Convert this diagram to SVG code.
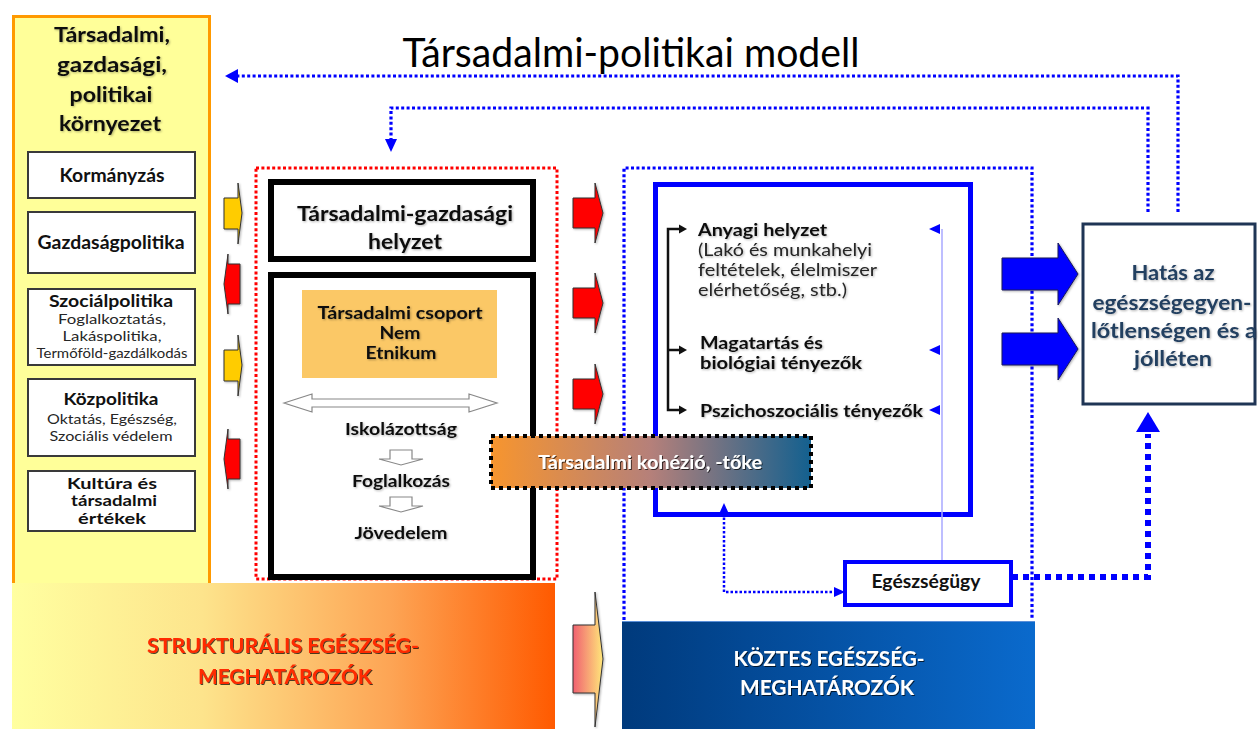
<svg xmlns="http://www.w3.org/2000/svg" width="1258" height="729" viewBox="0 0 1258 729">
<style>
text{font-family:Lato,"Open Sans","Liberation Sans",sans-serif;text-anchor:middle;dominant-baseline:central;fill:#111}
.b{font-weight:700}
.r{font-weight:400;fill:#262626}
.l{text-anchor:start}
.box{fill:#fff;stroke:#3a3a3a;stroke-width:2}
.dot{fill:none;stroke:#0000ff;stroke-width:3.2;stroke-dasharray:3 2.4}
.thin{fill:none;stroke:#0000ff;stroke-width:2.5;stroke-dasharray:2.5 2}
.ah{fill:#0000ff}
.blk{fill:#111}
.ya{fill:#ffcc00;stroke:#333;stroke-width:1}
.ra{fill:#ff0000;stroke:#333;stroke-width:1}
.ba{fill:#0000ff;stroke:#1a1a5a;stroke-width:1}
.wa{fill:#fff;stroke:#888;stroke-width:1.2}
</style>
<defs>
<linearGradient id="gStruct" x1="0" y1="0" x2="1" y2="0">
<stop offset="0" stop-color="#ffffa0"/><stop offset="0.35" stop-color="#fde48c"/><stop offset="0.7" stop-color="#fda454"/><stop offset="1" stop-color="#ff5a00"/>
</linearGradient>
<linearGradient id="gKoz" x1="0" y1="0" x2="1" y2="0">
<stop offset="0" stop-color="#003a7c"/><stop offset="1" stop-color="#0a6acd"/>
</linearGradient>
<linearGradient id="gKoh" x1="0" y1="0" x2="1" y2="0">
<stop offset="0" stop-color="#f7952e"/><stop offset="0.5" stop-color="#b5807a"/><stop offset="1" stop-color="#13608f"/>
</linearGradient>
<linearGradient id="gArr" x1="0" y1="0" x2="1" y2="0">
<stop offset="0" stop-color="#f06070"/><stop offset="1" stop-color="#ffe77a"/>
</linearGradient>
<filter id="sh" x="-10%" y="-20%" width="120%" height="150%">
<feDropShadow dx="1" dy="1" stdDeviation="0.6" flood-color="#000" flood-opacity="0.7"/>
</filter>
<filter id="sh2" x="-10%" y="-20%" width="120%" height="150%">
<feDropShadow dx="1" dy="1" stdDeviation="0.8" flood-color="#000" flood-opacity="0.3"/>
</filter>
</defs>
<rect width="1258" height="729" fill="#fff"/>

<g id="title"><text x="631" y="52" style="font-size:40px;fill:#000" textLength="457" lengthAdjust="spacingAndGlyphs">Társadalmi-politikai modell</text></g>

<g id="env">
<rect x="13.5" y="16.5" width="196" height="570" fill="#ffff99" stroke="#ff9900" stroke-width="3"/>
<g filter="url(#sh2)">
<text class="b" x="112" y="33" style="font-size:21px" textLength="116" lengthAdjust="spacingAndGlyphs">Társadalmi,</text>
<text class="b" x="112" y="63" style="font-size:21px" textLength="110" lengthAdjust="spacingAndGlyphs">gazdasági,</text>
<text class="b" x="111" y="93" style="font-size:21px" textLength="83" lengthAdjust="spacingAndGlyphs">politikai</text>
<text class="b" x="110" y="122" style="font-size:21px" textLength="102" lengthAdjust="spacingAndGlyphs">környezet</text>
</g>
</g>
<g id="kormanyzas"><rect class="box" x="28" y="152" width="167" height="46"/><text class="b" x="112" y="175" style="font-size:18px" textLength="105" lengthAdjust="spacingAndGlyphs">Kormányzás</text></g>
<g id="gazdasagpolitika"><rect class="box" x="28" y="212" width="167" height="61"/><text class="b" x="111" y="242" style="font-size:18px" textLength="147" lengthAdjust="spacingAndGlyphs">Gazdaságpolitika</text></g>
<g id="szocialpolitika"><rect class="box" x="28" y="289" width="167" height="76"/>
<text class="b" x="111" y="300" style="font-size:17px" textLength="124" lengthAdjust="spacingAndGlyphs">Szociálpolitika</text>
<text class="r" x="112" y="318.5" style="font-size:14px" textLength="108" lengthAdjust="spacingAndGlyphs">Foglalkoztatás,</text>
<text class="r" x="112" y="335.5" style="font-size:14px" textLength="99" lengthAdjust="spacingAndGlyphs">Lakáspolitika,</text>
<text class="r" x="112" y="352.5" style="font-size:14px" textLength="151" lengthAdjust="spacingAndGlyphs">Termőföld-gazdálkodás</text>
</g>
<g id="kozpolitika"><rect class="box" x="28" y="379" width="167" height="77"/>
<text class="b" x="111" y="398" style="font-size:17px" textLength="95" lengthAdjust="spacingAndGlyphs">Közpolitika</text>
<text class="r" x="112" y="418" style="font-size:14px" textLength="130" lengthAdjust="spacingAndGlyphs">Oktatás, Egészség,</text>
<text class="r" x="111" y="435" style="font-size:14px" textLength="123" lengthAdjust="spacingAndGlyphs">Szociális védelem</text>
</g>
<g id="kultura"><rect class="box" x="28" y="471" width="167" height="60"/>
<text class="b" x="112" y="483" style="font-size:14.5px" textLength="90" lengthAdjust="spacingAndGlyphs">Kultúra és</text>
<text class="b" x="114" y="500.5" style="font-size:14.5px" textLength="86" lengthAdjust="spacingAndGlyphs">társadalmi</text>
<text class="b" x="112" y="518" style="font-size:14.5px" textLength="68" lengthAdjust="spacingAndGlyphs">értékek</text>
</g>

<g id="strukturalis">
<rect x="12" y="583" width="543" height="146" fill="url(#gStruct)"/>
<g filter="url(#sh)">
<text class="b" x="283" y="645" style="font-size:20px;fill:#ff2a00" textLength="272" lengthAdjust="spacingAndGlyphs">STRUKTURÁLIS EGÉSZSÉG-</text>
<text class="b" x="285" y="676" style="font-size:20px;fill:#ff2a00" textLength="174" lengthAdjust="spacingAndGlyphs">MEGHATÁROZÓK</text>
</g>
</g>

<g id="koztes">
<rect x="622" y="621" width="413" height="108" fill="url(#gKoz)"/>
<line x1="622" y1="621.5" x2="1035" y2="621.5" stroke="#5a8fd8" stroke-width="1"/>
<g filter="url(#sh)">
<text class="b" x="829" y="658" style="font-size:20px;fill:#fff" textLength="191" lengthAdjust="spacingAndGlyphs">KÖZTES EGÉSZSÉG-</text>
<text class="b" x="827" y="687" style="font-size:20px;fill:#fff" textLength="174" lengthAdjust="spacingAndGlyphs">MEGHATÁROZÓK</text>
</g>
</g>

<g id="strukturalis-keret">
<rect x="256" y="168" width="301" height="411" fill="none" stroke="#ff0000" stroke-width="3" stroke-dasharray="3 2.4"/>
</g>
<g id="koztes-keret">
<path class="dot" d="M624,620 V168 H1032 V620"/>
</g>

<g id="tg-helyzet">
<rect x="271" y="182" width="262" height="77" fill="#fff" stroke="#000" stroke-width="6"/>
<g filter="url(#sh2)">
<text class="b" x="405" y="212" style="font-size:21px" textLength="216" lengthAdjust="spacingAndGlyphs">Társadalmi-gazdasági</text>
<text class="b" x="405" y="240" style="font-size:21px" textLength="74" lengthAdjust="spacingAndGlyphs">helyzet</text>
</g>
</g>
<g id="csoport">
<rect x="271" y="275" width="262" height="302" fill="#fff" stroke="#000" stroke-width="6"/>
<rect x="302" y="290" width="195" height="88" fill="#fbc866"/>
<g filter="url(#sh2)">
<text class="b" x="400" y="313" style="font-size:16.5px;font-weight:700" textLength="165" lengthAdjust="spacingAndGlyphs">Társadalmi csoport</text>
<text class="b" x="400" y="333" style="font-size:16.5px;font-weight:700" textLength="41" lengthAdjust="spacingAndGlyphs">Nem</text>
<text class="b" x="401" y="353" style="font-size:16.5px;font-weight:700" textLength="71" lengthAdjust="spacingAndGlyphs">Etnikum</text>
</g>
<polygon class="wa" points="284,403 312,394 312,399 469,399 469,394 497,403 469,412 469,407 312,407 312,412"/>
<g filter="url(#sh2)">
<text class="b" x="401" y="428" style="font-size:17px" textLength="112" lengthAdjust="spacingAndGlyphs">Iskolázottság</text>
<text class="b" x="401" y="480" style="font-size:17px" textLength="98" lengthAdjust="spacingAndGlyphs">Foglalkozás</text>
<text class="b" x="401" y="532" style="font-size:17px" textLength="93" lengthAdjust="spacingAndGlyphs">Jövedelem</text>
</g>
<polygon class="wa" points="390,450 412,450 412,459 423,459 401,465 379,459 390,459"/>
<polygon class="wa" points="390,497 412,497 412,506 423,506 401,512 379,506 390,506"/>
</g>

<g id="anyagi">
<rect x="655.5" y="184.5" width="315" height="330" fill="#fff" stroke="#0000ff" stroke-width="5"/>
<line x1="942" y1="229" x2="942" y2="561" stroke="#a8a8ff" stroke-width="1.5"/>
<polygon class="ah" points="929,229 940,224 940,234"/>
<polygon class="ah" points="929,350 940,345 940,355"/>
<polygon class="ah" points="929,410 940,405 940,415"/>
<path d="M680,229 H668 V410 H680 M668,350 H680" fill="none" stroke="#111" stroke-width="2.5"/>
<polygon class="blk" points="687,229 679,224.5 679,233.5"/>
<polygon class="blk" points="687,350 679,345.5 679,354.5"/>
<polygon class="blk" points="687,410 679,405.5 679,414.5"/>
<g filter="url(#sh2)">
<text class="b l" x="698" y="230" style="font-size:16.5px" textLength="129" lengthAdjust="spacingAndGlyphs">Anyagi helyzet</text>
<text class="r l" x="698" y="250" style="font-size:16.5px" textLength="174" lengthAdjust="spacingAndGlyphs">(Lakó és munkahelyi</text>
<text class="r l" x="698" y="270" style="font-size:16.5px" textLength="179" lengthAdjust="spacingAndGlyphs">feltételek, élelmiszer</text>
<text class="r l" x="698" y="290" style="font-size:16.5px" textLength="149" lengthAdjust="spacingAndGlyphs">elérhetőség, stb.)</text>
<text class="b l" x="700" y="343" style="font-size:16.5px" textLength="123" lengthAdjust="spacingAndGlyphs">Magatartás és</text>
<text class="b l" x="700" y="363" style="font-size:16.5px" textLength="162" lengthAdjust="spacingAndGlyphs">biológiai tényezők</text>
<text class="b l" x="700" y="411" style="font-size:16.5px" textLength="223" lengthAdjust="spacingAndGlyphs">Pszichoszociális tényezők</text>
</g>
</g>

<g id="kohezio">
<rect x="491" y="436" width="320" height="52" fill="url(#gKoh)" stroke="#000" stroke-width="4" stroke-dasharray="4 4"/>
<text class="b" x="650" y="462" style="font-size:18px;fill:#fff" filter="url(#sh)" textLength="224" lengthAdjust="spacingAndGlyphs">Társadalmi kohézió, -tőke</text>
</g>

<g id="egeszsegugy">
<rect x="845" y="562" width="166" height="43" fill="#fff" stroke="#0000ff" stroke-width="4"/>
<text class="b" x="926" y="581" style="font-size:18px" textLength="109" lengthAdjust="spacingAndGlyphs">Egészségügy</text>
</g>

<g id="hatas">
<rect x="1083" y="224" width="172" height="180" fill="#fff" stroke="#1f3555" stroke-width="3"/>
<g filter="url(#sh2)">
<text class="b" x="1173" y="272" style="font-size:20px;fill:#243f60" textLength="83" lengthAdjust="spacingAndGlyphs">Hatás az</text>
<text class="b" x="1172" y="302" style="font-size:20px;fill:#243f60" textLength="159" lengthAdjust="spacingAndGlyphs">egészségegyen-</text>
<text class="b" x="1174" y="330" style="font-size:20px;fill:#243f60" textLength="166" lengthAdjust="spacingAndGlyphs">lőtlenségen és a</text>
<text class="b" x="1173" y="358" style="font-size:20px;fill:#243f60" textLength="78" lengthAdjust="spacingAndGlyphs">jólléten</text>
</g>
</g>

<g id="connectors">
<path class="dot" d="M1178,212 V76 H236"/>
<polygon class="ah" points="225,76 238,69 238,83"/>
<path class="dot" d="M1148,212 V108 H391 V140"/>
<polygon class="ah" points="391,152 385,139 397,139"/>
<path class="thin" d="M724,513 V592 H836"/>
<polygon class="ah" points="724,503 719,514 729,514"/>
<polygon class="ah" points="845,592 834,587 834,597"/>
<path d="M1012,577 H1148 V434" fill="none" stroke="#0000ff" stroke-width="6" stroke-dasharray="6 5"/>
<polygon class="ah" points="1148,412 1136,432 1160,432"/>
<g filter="url(#sh2)">
<polygon class="ya" points="224,198 238,198 238,183 242,213 238,244 238,229 224,229"/>
<polygon class="ra" points="240,264 228,264 228,254 224,284 228,314 228,304 240,304"/>
<polygon class="ya" points="224,350 238,350 238,335 242,365 238,396 238,381 224,381"/>
<polygon class="ra" points="240,439 228,439 228,429 224,459 228,489 228,479 240,479"/>
<polygon class="ra" points="573,198 595,198 595,183 603,213 595,243 595,228 573,228"/>
<polygon class="ra" points="573,288 595,288 595,273 603,303 595,333 595,318 573,318"/>
<polygon class="ra" points="573,379 595,379 595,364 603,394 595,424 595,409 573,409"/>
<polygon points="573,625 595,625 595,592 603,659 595,727 595,693 573,693" fill="url(#gArr)" stroke="#333" stroke-width="1"/>
<polygon class="ba" points="1002,258 1058,258 1058,243 1078,274 1058,305 1058,290 1002,290"/>
<polygon class="ba" points="1002,333 1058,333 1058,318 1078,349 1058,380 1058,365 1002,365"/>
</g>
</g>
</svg>
